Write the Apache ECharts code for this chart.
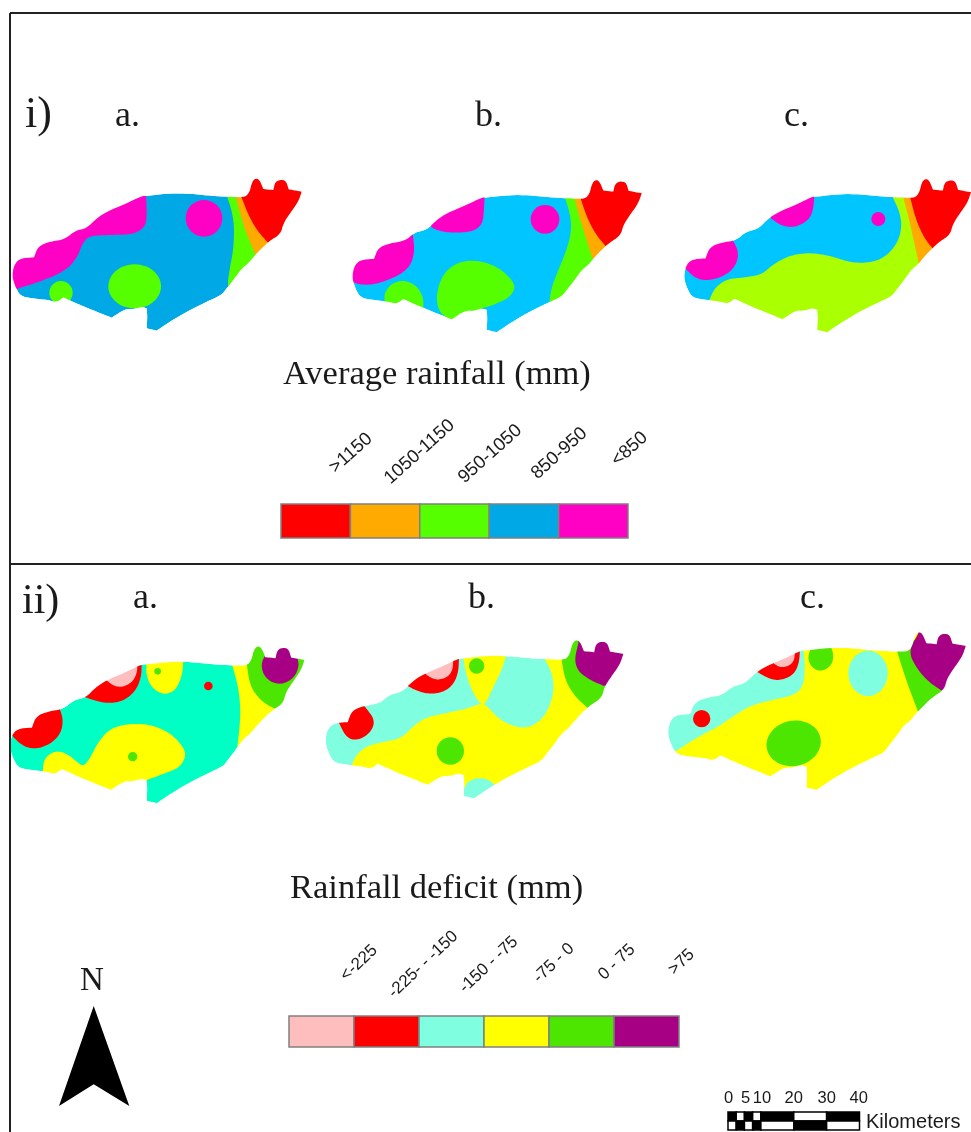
<!DOCTYPE html>
<html><head><meta charset="utf-8">
<style>html,body{margin:0;padding:0;background:#fff}#c{width:971px;height:1132px}</style>
<script src="https://cdn.jsdelivr.net/npm/echarts@6/dist/echarts.min.js"></script>
</head><body><div id="c"></div>
<script>
// ---------- legend classes ----------
const rainfallClasses = ['>1150','1050-1150','950-1050','850-950','<850'];
const rainfallColors  = ['#ff0000','#ffaa00','#55ff00','#00a9e6','#ff00c5'];
const deficitClasses  = ['<-225','-225- - -150','-150 - -75','-75 - 0','0 - 75','>75'];
const deficitColors   = ['#ffbebe','#ff0000','#7fffdf','#ffff00','#4ce600','#a80084'];

const islandOutline = [[438,108],[510,100],[570,101],[640,108],[680,110],[725,112],[740,108],[750,92],[756,66],[767,54],[779,60],[790,87],[790,87],[820,90],[820,90],[825,67],[840,59],[858,62],[866,88],[866,88],[905,95],[905,95],[895,125],[870,160],[850,190],[842,222],[805,245],[765,285],[745,310],[725,325],[700,360],[680,385],[665,405],[620,425],[560,455],[510,485],[470,512],[470,512],[440,505],[440,505],[442,470],[440,445],[440,445],[425,440],[400,448],[375,447],[335,473],[335,473],[290,455],[240,435],[190,412],[190,412],[170,427],[145,420],[95,415],[62,408],[48,385],[36,350],[42,315],[60,295],[102,292],[102,292],[115,258],[150,245],[195,238],[225,212],[260,205],[290,175],[320,155],[380,130],[425,108]];

// ---------- class zones per map: cls, curve edge (e), outside closing points (x), circle (o) or ellipse (l) ----------
const rainAParts = [
 {cls:'950-1050',e:[[678,100],[695,150],[703,200],[700,270],[690,320],[682,375],[690,400]],x:[[900,400],[900,90]]},
 {cls:'1050-1150',e:[[705,100],[720,160],[735,210],[752,250],[767,285]],x:[[850,300],[850,90]]},
 {cls:'>1150',e:[[722,105],[745,165],[770,210],[803,247]],x:[[950,260],[950,30],[722,30]]},
 {cls:'<850',e:[[438,100],[441,170],[435,200],[410,218],[380,224],[320,225],[265,228],[245,255],[235,285],[210,320],[170,345],[110,368],[55,385],[45,390]],x:[[20,390],[20,280],[200,180],[420,80]]},
 {cls:'<850',o:[612,175,55]},
 {cls:'950-1050',l:[404,379,79,66,0]},
 {cls:'950-1050',o:[183,398,35]},
];
const rainBParts = [
 {cls:'950-1050',e:[[672,105],[690,160],[695,210],[680,270],[655,330],[635,380],[628,425]],x:[[700,450],[900,300],[850,90]]},
 {cls:'1050-1150',e:[[700,105],[718,170],[735,225],[757,295]],x:[[830,300],[830,100]]},
 {cls:'>1150',e:[[720,110],[740,170],[765,220],[798,260]],x:[[950,300],[950,30],[720,30]]},
 {cls:'<850',e:[[434,100],[432,150],[428,190],[405,212],[365,218],[320,217],[285,209],[270,197]],x:[[260,180],[420,95]]},
 {cls:'<850',e:[[218,220],[224,270],[215,310],[190,338],[150,358],[100,374],[60,374],[35,365]],x:[[20,365],[20,280],[115,240],[218,210]]},
 {cls:'<850',o:[615,178,43]},
 {cls:'950-1050',e:[[330,478],[300,460],[288,420],[298,365],[325,325],[365,303],[420,302],[475,322],[515,358],[527,385],[505,415],[460,435],[425,445]],x:[[425,500],[330,500]]},
 {cls:'950-1050',e:[[135,430],[132,400],[155,370],[190,360],[228,375],[250,410],[250,445]],x:[[250,460],[135,460]]},
];
const rainCParts = [
 {cls:'950-1050',e:[[115,420],[130,385],[165,358],[220,352],[270,345],[310,310],[360,285],[420,278],[480,288],[530,305],[580,310],[635,297],[675,257],[692,210],[688,160],[662,105]],x:[[900,100],[900,450],[480,560],[115,470]]},
 {cls:'<850',e:[[430,105],[427,150],[412,182],[370,203],[330,197],[300,175]],x:[[290,150],[430,95]]},
 {cls:'<850',e:[[185,240],[203,275],[197,312],[170,343],[120,362],[75,357],[42,325]],x:[[20,300],[100,230],[185,235]]},
 {cls:'<850',o:[622,177,21]},
 {cls:'1050-1150',e:[[695,105],[715,180],[730,250],[745,318]],x:[[830,330],[830,100]]},
 {cls:'>1150',e:[[717,110],[735,180],[760,235],[790,272]],x:[[950,290],[950,30],[717,30]]},
];
const deficitAParts = [
 {cls:'-75 - 0',e:[[128,425],[132,385],[165,362],[200,370],[230,395],[250,410],[270,385],[295,335],[330,296],[385,281],[450,283],[510,308],[550,350],[558,380],[538,413],[490,432],[440,450]],x:[[440,560],[128,560]]},
 {cls:'-225- - -150',e:[[425,100],[424,140],[407,183],[370,213],[330,220],[290,214],[252,200]],x:[[250,180],[420,85]]},
 {cls:'<-225',e:[[412,100],[411,130],[396,158],[365,172],[340,167],[318,150]],x:[[300,130],[412,90]]},
 {cls:'-225- - -150',e:[[178,232],[190,270],[182,312],[150,343],[105,358],[65,347],[30,310]],x:[[20,300],[90,220],[178,225]]},
 {cls:'-75 - 0',e:[[440,95],[438,135],[455,173],[490,195],[527,182],[547,135],[550,90]],x:[[550,80],[440,80]]},
 {cls:'0 - 75',o:[473,124,10]},
 {cls:'-225- - -150',o:[625,168,13]},
 {cls:'0 - 75',o:[398,380,14]},
 {cls:'-75 - 0',e:[[695,100],[715,170],[722,240],[718,300],[712,350]],x:[[760,400],[900,300],[850,90]]},
 {cls:'0 - 75',e:[[740,100],[750,170],[785,215],[822,235]],x:[[900,260],[950,60],[760,30],[740,90]]},
 {cls:'>75',e:[[798,72],[783,100],[790,135],[815,158],[850,163],[883,142],[897,110],[893,85]],x:[[880,40],[810,40]]},
];
const deficitBParts = [
 {cls:'-75 - 0',e:[[110,405],[125,372],[160,346],[210,335],[260,325],[300,283],[340,260],[400,248],[460,235],[490,222],[512,222],[545,262],[590,288],[640,295],[683,267],[708,220],[718,170],[708,120],[688,85]],x:[[950,80],[950,400],[480,560],[110,450]]},
 {cls:'-75 - 0',e:[[445,85],[455,140],[475,190],[495,222],[512,222],[535,170],[560,120],[572,80]],x:[[572,70],[445,70]]},
 {cls:'-150 - -75',e:[[447,475],[460,453],[490,443],[520,448],[540,465]],x:[[540,560],[447,560]]},
 {cls:'-225- - -150',e:[[432,80],[430,130],[412,168],[380,188],[340,192],[305,182],[278,168]],x:[[270,150],[430,70]]},
 {cls:'<-225',e:[[415,90],[412,125],[392,145],[360,150],[335,135]],x:[[320,120],[415,85]]},
 {cls:'-225- - -150',e:[[148,228],[181,270],[167,308],[130,331],[95,325],[70,275]],x:[[100,240],[148,220]]},
 {cls:'0 - 75',o:[406,363,41]},
 {cls:'0 - 75',o:[485,108,23]},
 {cls:'0 - 75',e:[[740,90],[750,150],[780,200],[817,233]],x:[[900,260],[950,30],[760,20]]},
 {cls:'>75',e:[[790,40],[778,90],[790,125],[825,150],[865,167]],x:[[950,170],[950,20],[790,20]]},
];
const deficitCParts = [
 {cls:'-150 - -75',e:[[65,392],[130,350],[190,320],[240,285],[290,255],[360,238],[420,225],[447,195],[450,130],[445,85]],x:[[445,70],[100,230],[20,300],[30,392]]},
 {cls:'-225- - -150',e:[[435,90],[432,130],[417,163],[380,181],[345,178],[305,155]],x:[[300,140],[435,80]]},
 {cls:'<-225',e:[[420,95],[417,125],[397,140],[375,142],[358,132]],x:[[350,120],[420,85]]},
 {cls:'-225- - -150',o:[140,296,26]},
 {cls:'0 - 75',e:[[466,88],[458,115],[470,143],[497,155],[527,140],[537,110],[528,80]],x:[[528,70],[466,70]]},
 {cls:'-150 - -75',l:[639,160,59,68,0]},
 {cls:'0 - 75',l:[416,370,82,68,-0.2]},
 {cls:'0 - 75',e:[[725,90],[750,170],[770,225],[788,272]],x:[[900,300],[950,60],[725,60]]},
 {cls:'>75',e:[[790,40],[760,95],[785,145],[820,185],[860,212]],x:[[950,215],[950,20],[790,20]]},
];

// ---------- maps: base class, colour overrides, crop origin, outline placement ----------
const maps = [
 {base:'850-950', colors:{}, crop:[0,160],  parts:rainAParts, place:[12,191.7,1,1]},
 {base:'850-950', colors:{'850-950':'#00c5ff'}, crop:[340,160],parts:rainBParts, place:[352,193.3,1,1]},
 {base:'850-950', colors:{'850-950':'#00c5ff','950-1050':'#aaff00'}, crop:[671,160],parts:rainCParts, place:[683.7,192.3,.9917,1.007]},
 {base:'-150 - -75', colors:{'-150 - -75':'#00ffc5'}, crop:[0,630],  parts:deficitAParts, place:[9.5,660,1.018,1.031]},
 {base:'-150 - -75', colors:{}, crop:[315,630],parts:deficitBParts, place:[325,654,1.03,1.038]},
 {base:'-75 - 0', colors:{}, crop:[655,620],parts:deficitCParts, place:[667.7,646,1.029,1.036]},
];

// ---------- text ----------
const serifLabels = [
 ['i)',25,115,44],['a.',115,117,36],['b.',475,117,36],['c.',784,117,36],
 ['Average rainfall (mm)',283,375,34.5],
 ['ii)',22,602,42],['a.',133,599,36],['b.',468,599,36],['c.',800,599,36],
 ['Rainfall deficit (mm)',290,889,34.5],['N',80,981,33]
];
const rotatedRainLabels = [[332,470],[387,481],[461,480],[534,476],[614,463]];
const rotatedDeficitLabels = [[343,978],[391,995],[462,990],[536,980],[601,977],[671,972]];
const rainLegendBox = [281,504,69.4,34];
const deficitLegendBox = [289,1016,65,31];

// ---------- north arrow and scale bar ----------
const northArrow = [[93.7,1006],[129.3,1106],[93.7,1084.3],[59,1106]];
const scaleKm = [0,2.5,5,7.5,10,20,30,40];
const scaleTicks = [0,5,10,20,30,40];
const scaleTickX = [728.5,745.7,762,793.7,826.7,858.7];
const scaleBox = [728,1112,131.5,18];

// ---------- frame ----------
const frameLines = [[[10,13],[971,13]],[[10,13],[10,1132]],[[10,564],[971,564]]];

// corner-cutting curve smoothing
function smooth(p, closed, iters){
  let cur=p;
  for(let it=0;it<iters;it++){
    const n=cur.length,out=[];
    if(!closed) out.push(cur[0]);
    const m=closed?n:n-1;
    for(let i=0;i<m;i++){
      const a=cur[i],b=cur[(i+1)%n];
      out.push([.75*a[0]+.25*b[0],.75*a[1]+.25*b[1]],[.25*a[0]+.75*b[0],.25*a[1]+.75*b[1]]);
    }
    if(!closed) out.push(cur[n-1]);
    cur=out;
  }
  return cur;
}
function ellipsePts(l){
  const [cx,cy,rx,ry,rot]=l,out=[];
  for(let i=0;i<60;i++){
    const t=i/60*2*Math.PI,x=rx*Math.cos(t),y=ry*Math.sin(t);
    out.push([cx+x*Math.cos(rot)-y*Math.sin(rot),cy+x*Math.sin(rot)+y*Math.cos(rot)]);
  }
  return out;
}

const series=[];
maps.forEach((m,mi)=>{
  const pal={};
  rainfallClasses.forEach((c,i)=>pal[c]=rainfallColors[i]);
  deficitClasses.forEach((c,i)=>{ if(mi>=3) pal[c]=deficitColors[i]; });
  Object.assign(pal,m.colors);
  const toAbs=p=>[m.crop[0]+p[0]/3,m.crop[1]+p[1]/3];
  const [px,py,sx,sy]=m.place;
  const outline=smooth(islandOutline,true,2).map(p=>{
    const x=p[0]/3,y=160+p[1]/3;
    return [px+sx*(x-12),py+sy*(y-191.7)];
  });
  const shapes=[{fill:pal[m.base],pts:outline}];
  let all=outline.slice();
  m.parts.forEach(z=>{
    if(z.o){
      shapes.push({fill:pal[z.cls],c:toAbs(z.o),r:z.o[2]/3});
    } else {
      const raw=z.l?ellipsePts(z.l):smooth(z.e,false,3).concat(z.x);
      const pts=raw.map(toAbs);
      all=all.concat(pts);
      shapes.push({fill:pal[z.cls],pts:pts});
    }
  });
  // white surround with the island as a hole, trims the class zones to the coast
  const xs=all.map(p=>p[0]),ys=all.map(p=>p[1]);
  const x0=Math.min(...xs)-3,x1=Math.max(...xs)+3,y0=Math.min(...ys)-3,y1=Math.max(...ys)+3;
  const rect=[[x0,y0],[x1,y0],[x1,y1],[x0,y1],[x0,y0]];
  const area=outline.reduce((s,p,i)=>{const q=outline[(i+1)%outline.length];return s+p[0]*q[1]-q[0]*p[1];},0);
  const ring=area>0?outline.slice().reverse():outline;
  shapes.push({fill:'#ffffff',pts:rect.concat(ring,[ring[0]])});
  series.push({type:'custom',coordinateSystem:'cartesian2d',z:2+mi,silent:true,clip:false,
    data:shapes.map((_,i)=>[i,0]),encode:{x:0,y:1},
    renderItem:(params,api)=>{
      const s=shapes[params.dataIndex];
      if(s.c){const c=api.coord(s.c);return {type:'circle',shape:{cx:c[0],cy:c[1],r:s.r},style:{fill:s.fill}};}
      return {type:'polygon',shape:{points:s.pts.map(p=>api.coord(p))},style:{fill:s.fill}};
    }});
});

// legend swatches
function swatches(box,colors){
  return {type:'custom',coordinateSystem:'cartesian2d',z:20,silent:true,
    data:colors.map((c,i)=>[box[0]+i*box[2],box[1]]),encode:{x:0,y:1},
    renderItem:(params,api)=>{
      const p=api.coord([api.value(0),api.value(1)]);
      return {type:'rect',shape:{x:p[0],y:p[1],width:box[2],height:box[3]},
        style:{fill:colors[params.dataIndex],stroke:'#808080',lineWidth:1.5}};
    }};
}
series.push(swatches(rainLegendBox,rainfallColors),swatches(deficitLegendBox,deficitColors));

// text
function textSeries(rows,get){
  return {type:'custom',coordinateSystem:'cartesian2d',z:30,silent:true,
    data:rows.map(r=>[get(r)[1],get(r)[2]]),encode:{x:0,y:1},
    renderItem:(params,api)=>{
      const r=get(rows[params.dataIndex]);
      const p=api.coord([r[1],r[2]]);
      return {type:'text',x:p[0],y:p[1],rotation:r[5]||0,
        style:{text:r[0],font:r[3]+'px '+r[4],fill:'#1a1a1a',align:r[6]||'left',verticalAlign:'middle'}};
    }};
}
const SERIF='"Liberation Serif"',SANS='"Liberation Sans"';
series.push(textSeries(serifLabels,r=>[r[0],r[1],r[2],r[3],SERIF]));
series.push(textSeries(rainfallClasses.map((c,i)=>[c,...rotatedRainLabels[i]]),r=>[r[0],r[1],r[2],18.5,SANS,0.73]));
series.push(textSeries(deficitClasses.map((c,i)=>[c,...rotatedDeficitLabels[i]]),r=>[r[0],r[1],r[2],17,SANS,0.76]));
series.push(textSeries(scaleTicks.map((t,i)=>[String(t),scaleTickX[i],1098]),r=>[r[0],r[1],r[2],16.5,SANS,0,'center']));
series.push(textSeries([['Kilometers',866,1122]],r=>[r[0],r[1],r[2],20,SANS]));

// north arrow
series.push({type:'custom',coordinateSystem:'cartesian2d',z:30,silent:true,data:[[0,0]],encode:{x:0,y:1},
  renderItem:(params,api)=>({type:'polygon',shape:{points:northArrow.map(p=>api.coord(p))},style:{fill:'#000'}})});

// scale bar
const kmX=k=>scaleBox[0]+k/40*scaleBox[2];
const scaleCells=[];
for(let i=0;i<scaleKm.length-1;i++){
  scaleCells.push([scaleKm[i],scaleKm[i+1],0,i%2?'#fff':'#000']);
  scaleCells.push([scaleKm[i],scaleKm[i+1],1,i%2?'#000':'#fff']);
}
series.push({type:'custom',coordinateSystem:'cartesian2d',z:30,silent:true,
  data:scaleCells.map(c=>[kmX(c[0]),scaleBox[1]+c[2]*scaleBox[3]/2]),encode:{x:0,y:1},
  renderItem:(params,api)=>{
    const c=scaleCells[params.dataIndex];
    const a=api.coord([kmX(c[0]),scaleBox[1]+c[2]*scaleBox[3]/2]);
    const b=api.coord([kmX(c[1]),scaleBox[1]+(c[2]+1)*scaleBox[3]/2]);
    return {type:'rect',shape:{x:a[0],y:a[1],width:b[0]-a[0],height:b[1]-a[1]},style:{fill:c[3],stroke:'#000',lineWidth:1.5}};
  }});

// frame
series.push({type:'custom',coordinateSystem:'cartesian2d',z:40,silent:true,clip:false,
  data:frameLines.map(l=>l[0]),encode:{x:0,y:1},
  renderItem:(params,api)=>{
    const l=frameLines[params.dataIndex];
    const a=api.coord(l[0]),b=api.coord(l[1]);
    return {type:'line',shape:{x1:a[0],y1:a[1],x2:b[0],y2:b[1]},style:{stroke:'#222',lineWidth:2}};
  }});

const chart=echarts.init(document.getElementById('c'),null,{renderer:'canvas'});
chart.setOption({
  animation:false,backgroundColor:'#ffffff',tooltip:{show:false},
  grid:{left:0,right:0,top:0,bottom:0},
  xAxis:{type:'value',min:0,max:971,show:false},
  yAxis:{type:'value',min:0,max:1132,inverse:true,show:false},
  series:series
});
</script></body></html>
